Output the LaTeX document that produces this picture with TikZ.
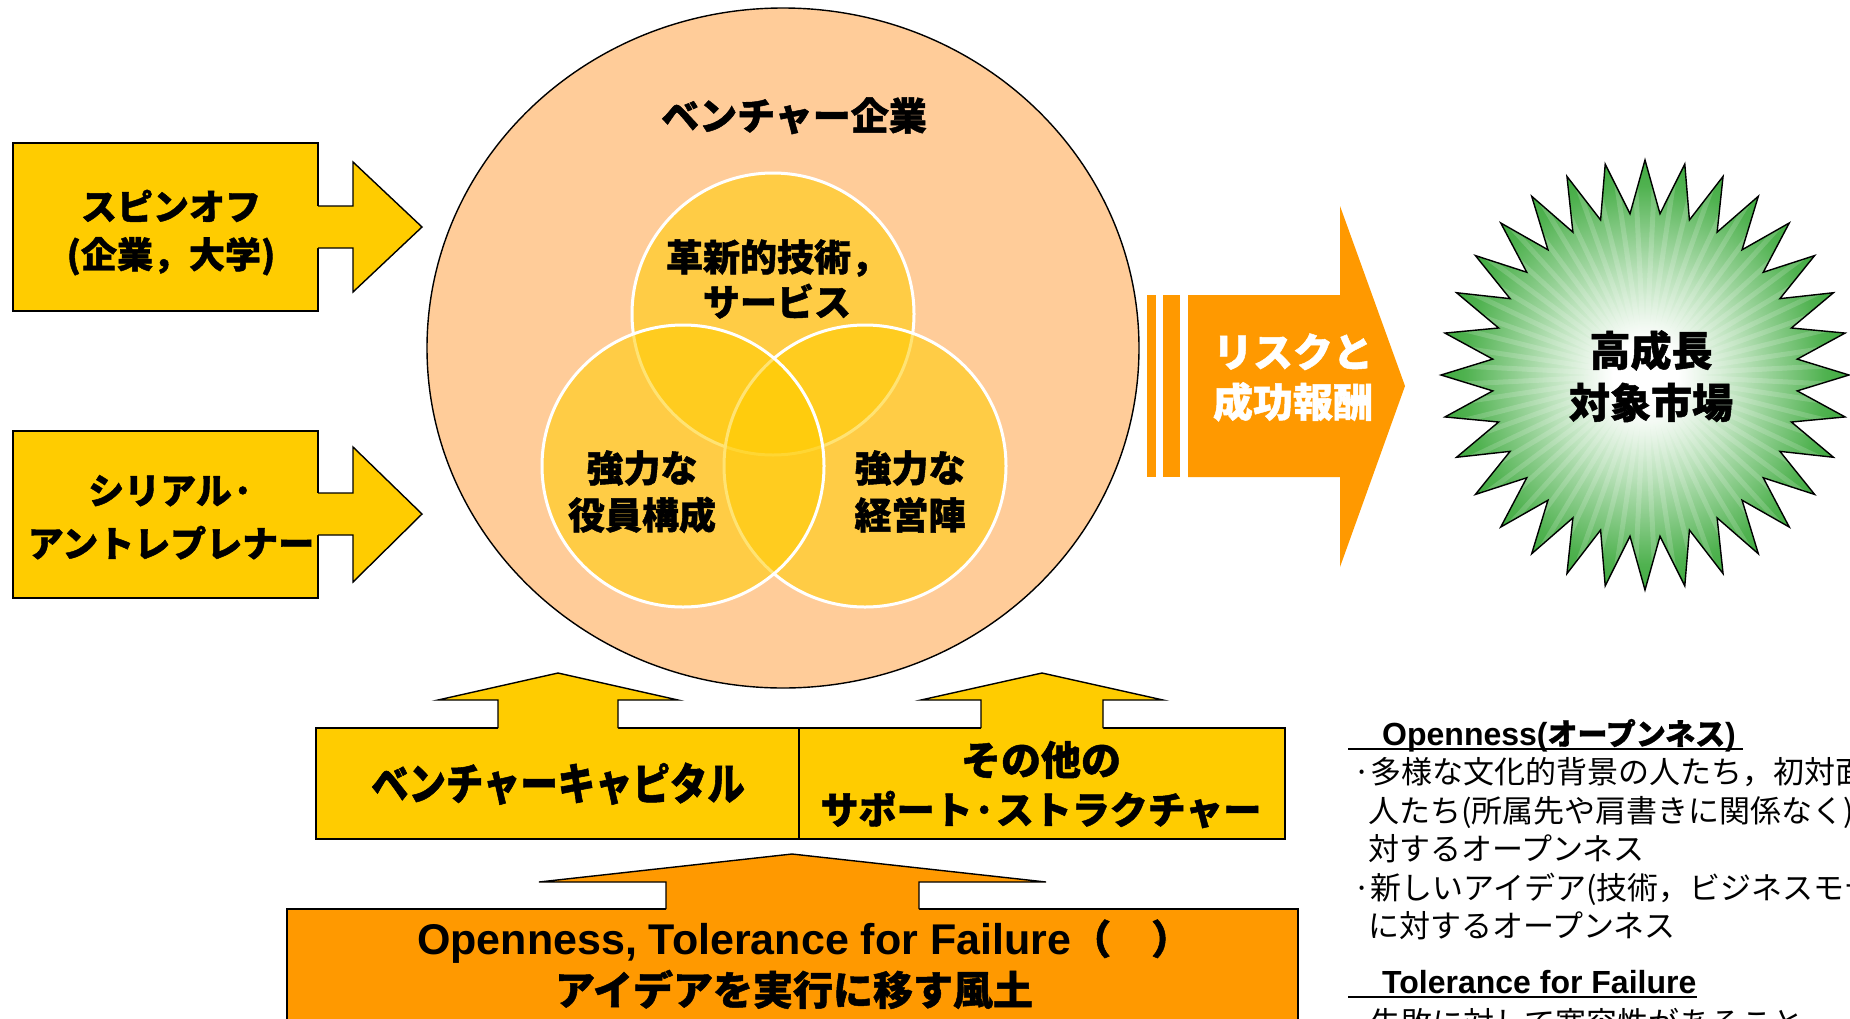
\documentclass[tikz,border=0pt]{standalone}
\usepackage{fontspec}
\usepackage{graphicx}
\newfontfamily\jp{Noto Sans CJK JP}[BoldFeatures={FakeBold=1.2}]
\newfontfamily\jpc{Noto Sans CJK JP}[FakeStretch=0.85, BoldFeatures={FakeBold=1.2}]
\newfontfamily\lat{Liberation Sans}
\definecolor{yel}{HTML}{FFCC00}
\definecolor{peach}{HTML}{FFCC99}
\definecolor{org}{HTML}{FF9900}
\definecolor{gr}{RGB}{28,152,28}
\definecolor{grm}{RGB}{80,178,80}
\definecolor{grl}{RGB}{185,225,185}
\pgfdeclareradialshading{burst}{\pgfpoint{0bp}{0bp}}{color(0bp)=(white); color(4bp)=(white); color(12bp)=(grl); color(22bp)=(grm); color(32bp)=(gr); color(50bp)=(gr)}
\newcommand\burstpath{(0:204) \foreach \k in {1,...,63}{ -- ({\k*5.625}:{204-51*isodd(\k)} and {215-53*isodd(\k)}) } -- cycle}
\begin{document}
\begin{tikzpicture}[x=1pt,y=-1pt,
  outl/.style={draw=black, line width=1.4pt, line join=miter},
  jb/.style={font={\jp\bfseries\fontsize{#1}{#1}\selectfont}, inner sep=0pt, anchor=base},
  jr/.style={font={\jp\fontsize{#1}{#1}\selectfont}, inner sep=0pt, anchor=base west},
  venn/.style={fill=yel, fill opacity=0.55, draw=white, line width=3pt},
  uline/.style={draw=black, line width=2pt},
]
\useasboundingbox (0,0) rectangle (1850,1018);
\clip (0,0) rectangle (1850,1018);

% ---- big ellipse: venture company
\draw[fill=peach, line width=1.4pt] (783,348) ellipse [x radius=356, y radius=340];
\path[venn] (773,314) circle [radius=141];
\path[venn] (865,466) circle [radius=141];
\path[venn] (683,466) circle [radius=141];

\node[jb=38] (title) at (794,130) {ベンチャー企業};
\node[jb=37] (tech1) at (777,271) {革新的技術，};
\node[jb=37] (tech2) at (777,316) {サービス};
\node[jb=37] (board1) at (642,482) {強力な};
\node[jb=37] (board2) at (642,529) {役員構成};
\node[jb=37] (mgmt1) at (910,482) {強力な};
\node[jb=37] (mgmt2) at (910,529) {経営陣};

% ---- left boxes with arrows
\draw[outl, fill=yel] (13,143) rectangle (318,311);
\fill[yel] (315,206) -- (353,206) -- (353,162) -- (422,227) -- (353,292) -- (353,248) -- (315,248) -- cycle;
\draw[outl] (318,206) -- (353,206) -- (353,162) -- (422,227) -- (353,292) -- (353,248) -- (318,248);
\node[jb=36] (spin1) at (171,220) {スピンオフ};
\node[jb=36] (spin2) at (171,268) {(企業，大学)};

\draw[outl, fill=yel] (13,431) rectangle (318,598);
\fill[yel] (315,493) -- (353,493) -- (353,447) -- (422,514) -- (353,582) -- (353,535) -- (315,535) -- cycle;
\draw[outl] (318,493) -- (353,493) -- (353,447) -- (422,514) -- (353,582) -- (353,535) -- (318,535);
\node[jb=36] (ser1) at (171,504) {シリアル·};
\node[jb=36] (ser2) at (171,557) {アントレプレナー};

% ---- bottom yellow boxes with up arrows
\draw[outl, fill=yel] (316,728) rectangle (1285,839);
\draw[outl] (799,728) -- (799,839);
\fill[yel] (498,731) -- (498,700) -- (438,700) -- (558,673) -- (678,700) -- (618,700) -- (618,731) -- cycle;
\draw[outl] (498,728) -- (498,700) -- (438,700) -- (558,673) -- (678,700) -- (618,700) -- (618,728);
\fill[yel] (981,731) -- (981,700) -- (921,700) -- (1042,673) -- (1163,700) -- (1103,700) -- (1103,731) -- cycle;
\draw[outl] (981,728) -- (981,700) -- (921,700) -- (1042,673) -- (1163,700) -- (1103,700) -- (1103,728);
\node[font={\jpc\bfseries\fontsize{44}{44}\selectfont}, inner sep=0pt, anchor=base] (vc) at (558,800) {ベンチャーキャピタル};
\node[jb=40] (oth1) at (1041,775) {その他の};
\node[jb=38] (oth2) at (1041,824) {サポート·ストラクチャー};

% ---- bottom orange box with up arrow
\draw[outl, fill=org] (287,909) rectangle (1298,1040);
\fill[org] (666,912) -- (666,882) -- (539,882) -- (792,854) -- (1046,882) -- (919,882) -- (919,912) -- cycle;
\draw[outl] (666,909) -- (666,882) -- (539,882) -- (792,854) -- (1046,882) -- (919,882) -- (919,909);
\node[font={\lat\bfseries\fontsize{43}{43}\selectfont}, inner sep=0pt, anchor=base west] (cult1) at (417,954) {Openness, Tolerance for Failure{\jp\bfseries\fontsize{40}{40}\selectfont （　）}};
\node[jb=40] (cult2) at (794,1005) {アイデアを実行に移す風土};

% ---- right orange arrow
\fill[org] (1147,295) rectangle (1156,477);
\fill[org] (1163,295) rectangle (1180,477);
\fill[org] (1188,295) -- (1340,295) -- (1340,206) -- (1405,386) -- (1340,567) -- (1340,477) -- (1188,477) -- cycle;
\node[jb=40, text=white] (risk1) at (1293,367) {リスクと};
\node[jb=40, text=white] (risk2) at (1293,417) {成功報酬};

% ---- starburst
\begin{scope}[shift={(1645,375)}]
  \shade[shading=burst] \burstpath;
  \begin{scope}
    \clip \burstpath;
    \foreach \k in {0,...,63} \draw[white, opacity=0.16, line width=5pt] (0,0) -- ({\k*5.625+2.8}:215);
  \end{scope}
  \draw[line width=1.4pt, line join=miter] \burstpath;
\end{scope}
\node[jb=41] (mkt1) at (1651,366) {高成長};
\node[jb=41] (mkt2) at (1651,418) {対象市場};

% ---- right-hand notes
\node[font={\lat\bfseries\fontsize{32}{32}\selectfont}, inner sep=0pt, anchor=base west] (h1) at (1382,745) {Openness({\jp\bfseries\fontsize{30}{30}\selectfont オープンネス})};
\draw[uline] (1348,749) -- (1743,749);
\node[jr=31] (b1) at (1353,783) {·多様な文化的背景の人たち，初対面};
\node[jr=31] (b2) at (1368,822) {人たち(所属先や肩書きに関係なく)};
\node[jr=31] (b3) at (1368,860) {対するオープンネス};
\node[jr=31] (b4) at (1353,899) {·新しいアイデア(技術，ビジネスモデル};
\node[jr=31] (b5) at (1368,937) {に対するオープンネス};
\node[font={\lat\bfseries\fontsize{32}{32}\selectfont}, inner sep=0pt, anchor=base west] (h2) at (1382,993) {Tolerance for Failure};
\draw[uline] (1348,997) -- (1697,997);
\node[jr=31] (b6) at (1353,1034) {·失敗に対して寛容性があること};
\end{tikzpicture}
\end{document}
